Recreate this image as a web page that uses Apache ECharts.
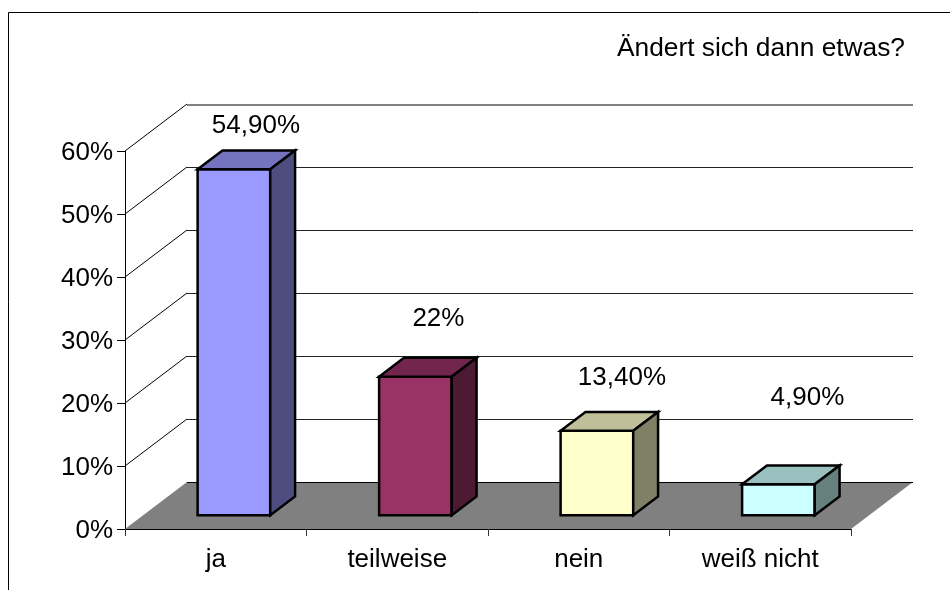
<!DOCTYPE html>
<html>
<head>
<meta charset="utf-8">
<style>
  html, body { margin: 0; padding: 0; background: #fff; }
  #chart { width: 950px; height: 590px; }
</style>
<script src="https://cdn.jsdelivr.net/npm/echarts@6/dist/echarts.min.js"></script>
</head>
<body>
<div id="chart"></div>
<script>
const categories = ['ja', 'teilweise', 'nein', 'weiß nicht']
const values = [54.9, 22, 13.4, 4.9]
const valueLabels = ['54,90%', '22%', '13,40%', '4,90%']
const yTicks = [0, 10, 20, 30, 40, 50, 60]

// look of the fake 3d box
const FONT = 'Liberation Sans'
const FONT_SIZE = 26
const DEPTH_X = 62
const DEPTH_Y = -47
const BAR_NEAR = 0.293 // part of the floor depth in front of the bar
const BAR_FAR = 0.694
const faceColors = ['#9999FF', '#993366', '#FFFFCC', '#CCFFFF']
const topColors = ['#7373BF', '#73264D', '#BFBF99', '#99BFBF']
const sideColors = ['#4D4D80', '#4D1A33', '#808066', '#668080']
// label offset from the top of the bar's front face, these were placed by hand
const labelOffsets = [[22, -44], [23, -58], [25, -53], [29, -87]]

const chart = echarts.init(document.getElementById('chart'), null, { renderer: 'canvas' })

function line(x1, y1, x2, y2, color, width) {
  return {
    type: 'line',
    shape: { x1, y1, x2, y2 },
    style: { stroke: color, lineWidth: width }
  }
}

function poly(points, fill) {
  return {
    type: 'polygon',
    shape: { points },
    style: { fill, stroke: '#000', lineWidth: 2.5, lineJoin: 'miter' }
  }
}

function renderFloor(params) {
  const g = params.coordSys
  const bottom = g.y + g.height
  const right = g.x + g.width
  const backY = bottom + DEPTH_Y + 0.5
  return {
    type: 'group',
    children: [
      {
        type: 'polygon',
        shape: {
          points: [[g.x, bottom], [right, bottom], [right + DEPTH_X, bottom + DEPTH_Y], [g.x + DEPTH_X, bottom + DEPTH_Y]]
        },
        style: { fill: '#808080' }
      },
      line(g.x + DEPTH_X, backY, right + DEPTH_X, backY, '#000', 1)
    ]
  }
}

function renderWall(params, api) {
  const g = params.coordSys
  const y = api.coord([0, api.value(1)])[1]
  const isTop = api.value(1) === yTicks[yTicks.length - 1]
  const backY = isTop ? y + DEPTH_Y + 1 : y + DEPTH_Y + 0.5
  return {
    type: 'group',
    children: [
      line(g.x, y, g.x + DEPTH_X, y + DEPTH_Y, '#000', 1),
      line(g.x + DEPTH_X, backY, g.x + g.width + DEPTH_X, backY, isTop ? '#808080' : '#222', isTop ? 2 : 1)
    ]
  }
}

function renderBar(params, api) {
  const i = api.value(0)
  const top = api.coord([i, api.value(1)])
  const base = api.coord([i, 0])
  const w = api.size([1, 0])[0] * 0.4
  const dx = DEPTH_X * BAR_NEAR
  const dy = DEPTH_Y * BAR_NEAR
  const bx = DEPTH_X * (BAR_FAR - BAR_NEAR)
  const by = DEPTH_Y * (BAR_FAR - BAR_NEAR)
  const l = top[0] - w / 2 + dx
  const r = top[0] + w / 2 + dx
  const t = top[1] + dy
  const b = base[1] + dy
  const off = labelOffsets[i]
  return {
    type: 'group',
    children: [
      poly([[l, b], [r, b], [r, t], [l, t]], faceColors[i]),
      poly([[l, t], [r, t], [r + bx, t + by], [l + bx, t + by]], topColors[i]),
      poly([[r, b], [r + bx, b + by], [r + bx, t + by], [r, t]], sideColors[i]),
      {
        type: 'text',
        style: {
          x: (l + r) / 2 + off[0],
          y: t + off[1],
          text: valueLabels[i],
          align: 'center',
          verticalAlign: 'middle',
          fill: '#000',
          font: FONT_SIZE + 'px "' + FONT + '"'
        }
      }
    ]
  }
}

chart.setOption({
  animation: false,
  backgroundColor: '#fff',
  textStyle: { fontFamily: FONT },
  title: {
    text: 'Ändert sich dann etwas?',
    left: 612,
    top: 31,
    textStyle: { fontFamily: FONT, fontSize: 26.3, fontWeight: 'normal', color: '#000' }
  },
  grid: { left: 125, top: 151, width: 726, height: 378, containLabel: false },
  xAxis: {
    type: 'category',
    data: categories,
    axisLine: { lineStyle: { color: '#000', width: 1 } },
    axisTick: { show: true, alignWithLabel: false, length: 7, lineStyle: { color: '#333' } },
    axisLabel: { color: '#000', fontSize: FONT_SIZE, margin: 18, fontFamily: FONT }
  },
  yAxis: {
    type: 'value',
    min: 0,
    max: 60,
    interval: 10,
    splitLine: { show: false },
    axisLine: { show: true, lineStyle: { color: '#000', width: 1 } },
    axisTick: { show: true, length: 8, lineStyle: { color: '#000' } },
    axisLabel: {
      margin: 12,
      formatter: '{t|{value}%}',
      rich: {
        t: { color: '#000', fontSize: FONT_SIZE, fontFamily: FONT, padding: [4, 0, 0, 0] }
      }
    }
  },
  graphic: [
    {
      type: 'polyline',
      shape: { points: [[8.5, 590], [8.5, 12.5], [950, 12.5]] },
      style: { stroke: '#000', fill: 'none', lineWidth: 1 }
    }
  ],
  series: [
    { type: 'custom', z: 1, renderItem: renderFloor, data: [[0, 0]] },
    { type: 'custom', z: 2, renderItem: renderWall, data: yTicks.slice(1).map(v => [0, v]) },
    { type: 'custom', z: 3, renderItem: renderBar, data: values.map((v, i) => [i, v]) }
  ]
})
</script>
</body>
</html>
